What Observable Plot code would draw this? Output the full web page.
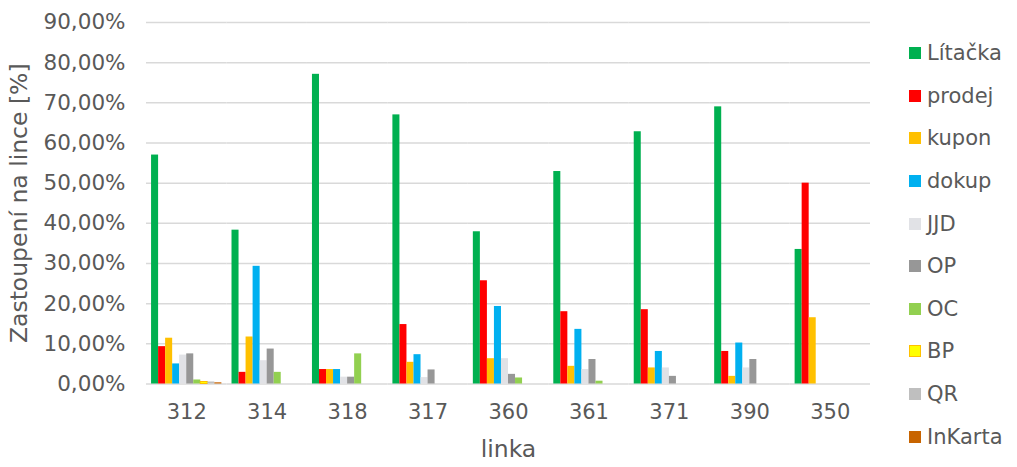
<!DOCTYPE html>
<html>
<head>
<meta charset="utf-8">
<script src="https://cdn.jsdelivr.net/npm/d3@7"></script>
<script src="https://cdn.jsdelivr.net/npm/@observablehq/plot@0.6"></script>
<style>
  body { margin: 0; background: #fff; font-family: "DejaVu Sans", sans-serif; }
  #wrap { position: relative; width: 1017px; height: 467px; }
  #legend { position: absolute; left: 909px; top: 32px; }
  .item { height: 42.6px; display: flex; align-items: center; font-size: 21px; color: #595959; }
  .sw { width: 12px; height: 12px; margin-right: 6px; box-sizing: border-box; flex: none; }
</style>
</head>
<body>
<div id="wrap"><div id="chart"></div><div id="legend"></div></div>
<script>
const linky = ["312", "314", "318", "317", "360", "361", "371", "390", "350"];
const series = ["Lítačka", "prodej", "kupon", "dokup", "JJD", "OP", "OC", "BP", "QR", "InKarta"];
const colors = ["#00B050", "#FF0000", "#FFC000", "#00B0F0", "#E1E2E6", "#979797", "#92D050", "#FFFF00", "#BFBFBF", "#C86400"];
const strokes = ["none", "none", "none", "none", "none", "none", "none", "#FFC000", "none", "none"];
// values in % per series, in order of linky
const litacka = [57.0, 38.3, 77.1, 67.0, 37.9, 52.9, 62.8, 69.0, 33.5];
const prodej  = [9.3, 2.9, 3.6, 14.8, 25.7, 18.0, 18.5, 8.1, 50.0];
const kupon   = [11.4, 11.7, 3.6, 5.4, 6.3, 4.4, 4.0, 1.9, 16.5];
const dokup   = [5.0, 29.3, 3.6, 7.3, 19.3, 13.6, 8.1, 10.2, 0];
const jjd     = [7.2, 5.8, 1.7, 1.6, 6.3, 3.6, 4.0, 4.0, 0];
const op      = [7.5, 8.7, 1.7, 3.5, 2.4, 6.1, 1.9, 6.1, 0];
const oc      = [1.0, 2.9, 7.5, 0, 1.5, 0.7, 0, 0, 0];
const bp      = [0.5, 0, 0, 0, 0, 0, 0, 0, 0];
const qr      = [0.5, 0, 0, 0, 0, 0, 0, 0, 0];
const inkarta = [0.3, 0, 0, 0, 0, 0, 0, 0, 0];
const yTicks = [0, 10, 20, 30, 40, 50, 60, 70, 80, 90];

const valuesBySeries = [litacka, prodej, kupon, dokup, jjd, op, oc, bp, qr, inkarta];
const data = series.flatMap((s, si) => linky.map((l, li) => ({linka: l, series: s, value: valuesBySeries[si][li]})));
const strokeOf = Object.fromEntries(series.map((s, i) => [s, strokes[i]]));
const fmt = d => d.toFixed(2).replace(".", ",") + "%";

const chart = Plot.plot({
  width: 1017,
  height: 467,
  marginLeft: 146,
  marginRight: 147,
  marginTop: 22,
  marginBottom: 83.5,
  style: {fontFamily: "DejaVu Sans, sans-serif", color: "#595959", background: "white"},
  fx: {domain: linky, padding: 0, round: false},
  x: {domain: series, paddingInner: 0, paddingOuter: 0.72, round: false, axis: null},
  y: {domain: [0, 90]},
  color: {domain: series, range: colors},
  marks: [
    Plot.ruleY(yTicks, {stroke: "#D9D9D9", strokeWidth: 1.5}),
    Plot.axisY({ticks: yTicks, tickFormat: fmt, tickSize: 0, tickPadding: 21, fontSize: 21.5,
      label: "Zastoupení na lince [%]", labelAnchor: "center", labelOffset: 136, labelArrow: "none"}),
    Plot.axisFx({anchor: "bottom", tickSize: 0, tickPadding: 20, fontSize: 21,
      label: "linka", labelAnchor: "center", labelOffset: 73, labelArrow: "none"}),
    Plot.barY(data, {fx: "linka", x: "series", y: "value", fill: "series",
      stroke: d => strokeOf[d.series], strokeWidth: 1})
  ]
});
// axis title size
d3.select(chart).selectAll('[aria-label="y-axis label"], [aria-label="fx-axis label"]').attr("font-size", 23.5);
document.getElementById("chart").appendChild(chart);

const legend = d3.select("#legend");
series.forEach((s, i) => {
  const it = legend.append("div").attr("class", "item");
  it.append("div").attr("class", "sw").style("background", colors[i])
    .style("border", strokes[i] === "none" ? "none" : `1.5px solid ${strokes[i]}`);
  it.append("span").text(s);
});
</script>
</body>
</html>
